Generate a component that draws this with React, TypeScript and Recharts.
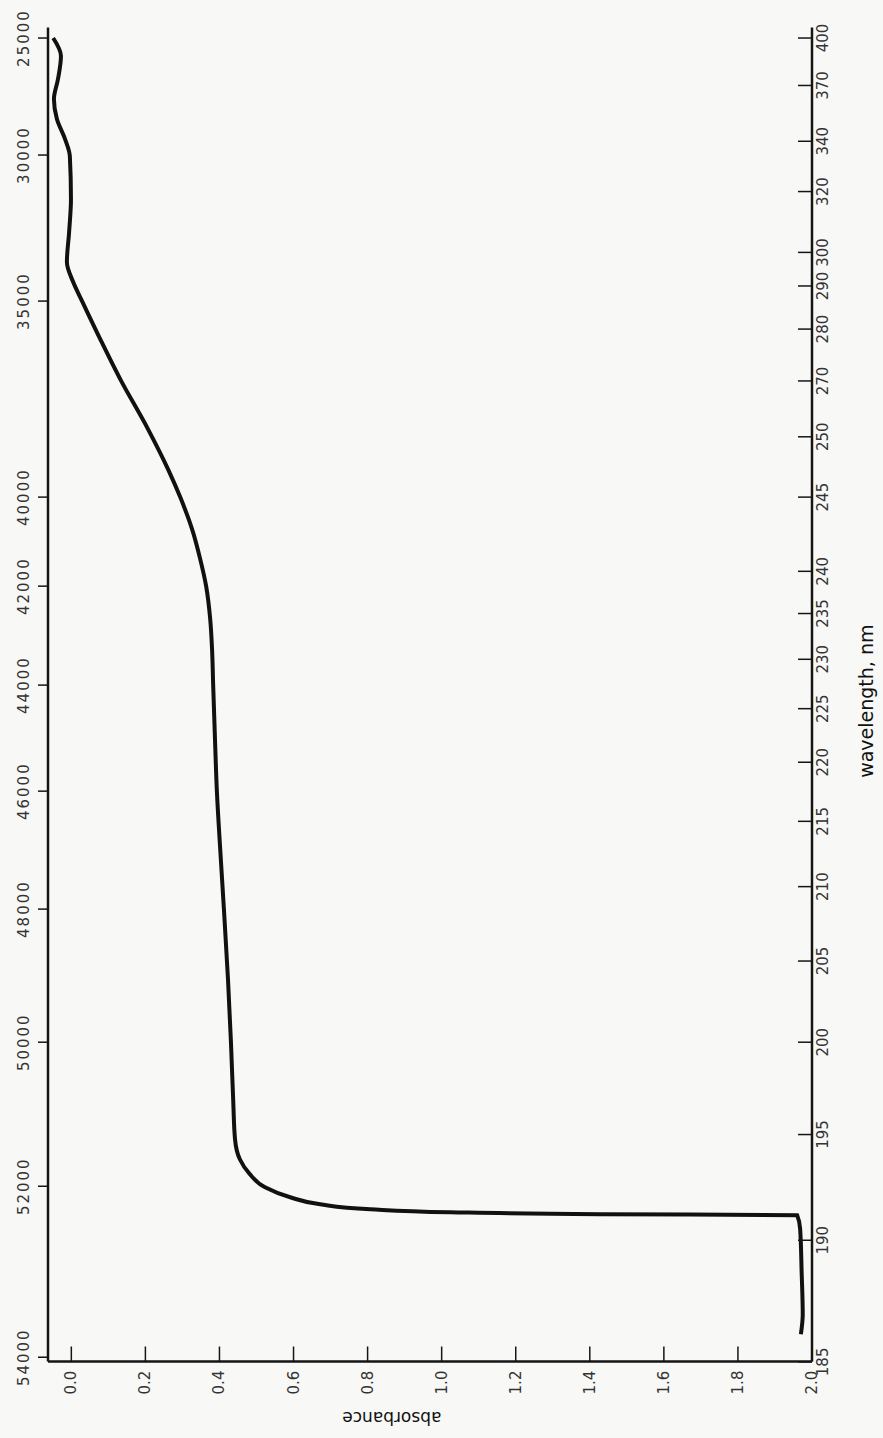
import { LineChart, Line, XAxis, YAxis } from "recharts";

// trace, from 25000 cm-1 down to the cut-off
const wavenumber = [
  25000, 25769, 26752, 27607, 28462, 29316, 30035, 31507, 32637, 33664,
  34349, 35000, 35969, 36990, 38265, 39286, 40000, 40719, 41393, 42000,
  42667, 43273, 44000, 45038, 46000, 46983, 48000, 49053, 50000, 50792,
  51347, 51625, 51833, 52012, 52129, 52211, 52269, 52304, 52327, 52339,
  52500, 53000, 53500, 53731,
];
const absorbance = [
  -0.049, -0.028, -0.036, -0.047, -0.039, -0.017, -0.004, -0.001, -0.006, -0.012,
  0.005, 0.029, 0.078, 0.132, 0.207, 0.261, 0.294, 0.326, 0.348, 0.364,
  0.375, 0.38, 0.383, 0.388, 0.393, 0.402, 0.412, 0.423, 0.431, 0.437,
  0.442, 0.455, 0.482, 0.523, 0.591, 0.672, 0.807, 1.023, 1.428, 1.96,
  1.968, 1.972, 1.975, 1.97,
];

const absTicks = [0, 0.2, 0.4, 0.6, 0.8, 1.0, 1.2, 1.4, 1.6, 1.8, 2.0];
const absTickLabels = ["0.0", "0.2", "0.4", "0.6", "0.8", "1.0", "1.2", "1.4", "1.6", "1.8", "2.0"];

const wnTicks = [25000, 30000, 35000, 40000, 42000, 44000, 46000, 48000, 50000, 52000, 54000];

const nmTicks = [400, 370, 340, 320, 300, 290, 280, 270, 260, 250, 240, 235, 230, 225, 220, 215, 210, 205, 200, 195, 190, 185];
const nmTickLabels = ["400", "370", "340", "320", "300", "290", "280", "270", "250", "245", "240", "235", "230", "225", "220", "215", "210", "205", "200", "195", "190", "185"];

const data = wavenumber.map((wn, i) => ({ wn, absorbance: absorbance[i] }));

// the chart paper is not linear in wavenumber: relative spacing of the printed ticks
const wnTickPos = [0, 0.0887, 0.1994, 0.348, 0.4155, 0.4905, 0.5709, 0.6603, 0.7612, 0.8704, 1];

function paperPos(v: number) {
  let i = 1;
  while (i < wnTicks.length - 1 && v > wnTicks[i]) i++;
  const t = (v - wnTicks[i - 1]) / (wnTicks[i] - wnTicks[i - 1]);
  return wnTickPos[i - 1] + t * (wnTickPos[i] - wnTickPos[i - 1]);
}

// minimal d3-like scale so recharts can use the paper spacing
function paperScale(): any {
  let dom: number[] = [25000, 54000];
  let rng: number[] = [0, 1];
  const scale: any = (v: number) => {
    const a = paperPos(dom[0]);
    const b = paperPos(dom[dom.length - 1]);
    return rng[0] + ((paperPos(Number(v)) - a) / (b - a)) * (rng[rng.length - 1] - rng[0]);
  };
  scale.domain = (d?: any) => {
    if (d === undefined) return dom.slice();
    dom = Array.from(d, Number);
    return scale;
  };
  scale.range = (r?: any) => {
    if (r === undefined) return rng.slice();
    rng = Array.from(r, Number);
    return scale;
  };
  scale.copy = () => paperScale().domain(dom).range(rng);
  scale.ticks = () => wnTicks.slice();
  scale.invert = (px: number) => {
    let lo = dom[0];
    let hi = dom[dom.length - 1];
    const up = scale(hi) > scale(lo);
    for (let k = 0; k < 60; k++) {
      const mid = (lo + hi) / 2;
      if ((scale(mid) < px) === up) lo = mid;
      else hi = mid;
    }
    return (lo + hi) / 2;
  };
  return scale;
}

const wnScale = paperScale();
const FONT = "'DejaVu Sans', 'Open Sans', sans-serif";
const INK = "#151515";

function LeftTick({ x, y, payload }: any) {
  const tx = x - 24;
  return (
    <g>
      <line x1={x - 10} y1={y} x2={x} y2={y} stroke={INK} strokeWidth={1.5} />
      <text
        x={tx}
        y={y}
        transform={`rotate(-90 ${tx} ${y})`}
        textAnchor="middle"
        dominantBaseline="central"
        fontSize={15}
        letterSpacing={2}
        fill="#333"
        fontFamily={FONT}
      >
        {payload.value}
      </text>
    </g>
  );
}

function RightTick({ x, y, payload }: any) {
  const i = nmTicks.findIndex((nm) => Math.abs(1e7 / nm - payload.value) < 1e-6);
  const tx = x + 11;
  return (
    <g>
      <line x1={x - 14} y1={y} x2={x} y2={y} stroke={INK} strokeWidth={1.5} />
      <text
        x={tx}
        y={y}
        transform={`rotate(-90 ${tx} ${y})`}
        textAnchor="middle"
        dominantBaseline="central"
        fontSize={15}
        fill="#333"
        fontFamily={FONT}
      >
        {i >= 0 ? nmTickLabels[i] : ""}
      </text>
    </g>
  );
}

function BottomTick({ x, y, payload }: any) {
  const i = absTicks.findIndex((a) => Math.abs(a - payload.value) < 1e-9);
  const ty = y + 21;
  return (
    <g>
      <line x1={x} y1={y} x2={x} y2={y - 15} stroke={INK} strokeWidth={1.5} />
      <text
        x={x}
        y={ty}
        transform={`rotate(-90 ${x} ${ty})`}
        textAnchor="middle"
        dominantBaseline="central"
        fontSize={15}
        fill="#333"
        fontFamily={FONT}
      >
        {i >= 0 ? absTickLabels[i] : ""}
      </text>
    </g>
  );
}

function AbsorbanceTitle(props: any) {
  const vb = props.viewBox || { x: 48, y: 1361.5, width: 764, height: 76.5 };
  const cx = vb.x + vb.width * 0.45;
  const cy = vb.y + 56;
  return (
    <text
      x={cx}
      y={cy}
      transform={`rotate(180 ${cx} ${cy})`}
      textAnchor="middle"
      dominantBaseline="central"
      fontSize={17}
      fill="#111"
      fontFamily={FONT}
    >
      absorbance
    </text>
  );
}

function WavelengthTitle(props: any) {
  const vb = props.viewBox || { x: 812, y: 27.5, width: 71, height: 1334 };
  const cx = vb.x + 54;
  const cy = vb.y + vb.height * 0.505;
  return (
    <text
      x={cx}
      y={cy}
      transform={`rotate(-90 ${cx} ${cy})`}
      textAnchor="middle"
      dominantBaseline="central"
      fontSize={19}
      fill="#111"
      fontFamily={FONT}
    >
      wavelength, nm
    </text>
  );
}

export default function App() {
  return (
    <div style={{ position: "absolute", left: 0, top: 0, width: 883, height: 1438, background: "#f8f8f6" }}>
      <LineChart
        width={883}
        height={1438}
        data={data}
        layout="vertical"
        margin={{ top: 27.5, right: 0, bottom: 0, left: 0 }}
      >
        <XAxis
          type="number"
          dataKey="absorbance"
          domain={[-0.063, 2.0]}
          allowDataOverflow
          ticks={absTicks}
          interval={0}
          height={76.5}
          tickSize={0}
          tickMargin={0}
          tickLine={false}
          tick={<BottomTick />}
          axisLine={{ stroke: INK, strokeWidth: 2.5 }}
          label={(p: any) => <AbsorbanceTitle {...p} />}
        />
        <YAxis
          yAxisId="wn"
          type="number"
          dataKey="wn"
          scale={wnScale}
          domain={[24550, 54050]}
          allowDataOverflow
          ticks={wnTicks}
          interval={0}
          width={48}
          tickSize={0}
          tickMargin={0}
          tickLine={false}
          tick={<LeftTick />}
          axisLine={{ stroke: INK, strokeWidth: 2.5 }}
        />
        <YAxis
          yAxisId="nm"
          orientation="right"
          type="number"
          dataKey="wn"
          scale={wnScale}
          domain={[24550, 54050]}
          allowDataOverflow
          ticks={nmTicks.map((nm) => 1e7 / nm)}
          interval={0}
          width={71}
          tickSize={0}
          tickMargin={0}
          tickLine={false}
          tick={<RightTick />}
          axisLine={{ stroke: INK, strokeWidth: 2.5 }}
          label={(p: any) => <WavelengthTitle {...p} />}
        />
        <Line
          yAxisId="wn"
          type="monotone"
          dataKey="absorbance"
          stroke="#111"
          strokeWidth={4}
          dot={false}
          isAnimationActive={false}
        />
      </LineChart>
    </div>
  );
}
